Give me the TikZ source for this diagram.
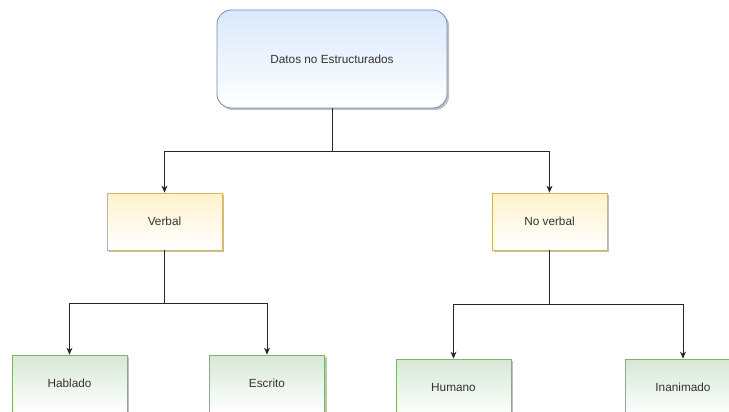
\documentclass[tikz,border=0pt]{standalone}
\usepackage{fontspec}
\setmainfont{Liberation Sans}
\usetikzlibrary{arrows.meta,shadows,positioning}

\definecolor{blueFill}{HTML}{DAE8FC}
\definecolor{blueLine}{HTML}{6C8EBF}
\definecolor{yellowFill}{HTML}{FFF2CC}
\definecolor{yellowLine}{HTML}{D6B656}
\definecolor{greenFill}{HTML}{D5E8D4}
\definecolor{greenLine}{HTML}{82B366}
\definecolor{textGray}{HTML}{333333}

\tikzset{
  box/.style={draw, line width=0.8pt, inner sep=0pt, align=center,
    font=\fontsize{11.8}{14}\selectfont, text=textGray,
    drop shadow={shadow xshift=2pt, shadow yshift=-2pt, opacity=0.25, fill=black}},
  rootbox/.style={box, rounded corners=14pt, draw=blueLine,
    top color=blueFill, bottom color=white,
    minimum width=230pt, minimum height=98pt},
  midbox/.style={box, draw=yellowLine, top color=yellowFill, bottom color=white,
    minimum width=115pt, minimum height=57pt},
  leafbox/.style={box, draw=greenLine, top color=greenFill, bottom color=white,
    minimum width=115pt, minimum height=57pt},
  link/.style={draw=black!85, line width=0.8pt,
    -{Stealth[length=7pt,width=6pt]}},
}

\begin{document}
\begin{tikzpicture}[x=1pt,y=-1pt]
  \useasboundingbox (0,0) rectangle (729,412);

  % root
  \node[rootbox] (root) at (332,59) {Datos no Estructurados};

  % second level
  \node[midbox] (verbal) at (164.5,221.5) {Verbal};
  \node[midbox] (noverbal) at (549.5,221.5) {No verbal};

  % leaves
  \node[leafbox] (hablado) at (69.5,383.5) {Hablado};
  \node[leafbox] (escrito) at (267,383.5) {Escrito};
  \node[leafbox] (humano) at (453.5,387.5) {Humano};
  \node[leafbox] (inanimado) at (683,387.5) {Inanimado};

  % connectors
  \draw[link] (root.south) -- ++(0,43) -| (verbal.north);
  \draw[link] (root.south) -- ++(0,43) -| (noverbal.north);
  \draw[link] (verbal.south) -- ++(0,53) -| (hablado.north);
  \draw[link] (verbal.south) -- ++(0,53) -| (escrito.north);
  \draw[link] (noverbal.south) -- ++(0,54) -| (humano.north);
  \draw[link] (noverbal.south) -- ++(0,54) -| (inanimado.north);
\end{tikzpicture}
\end{document}
